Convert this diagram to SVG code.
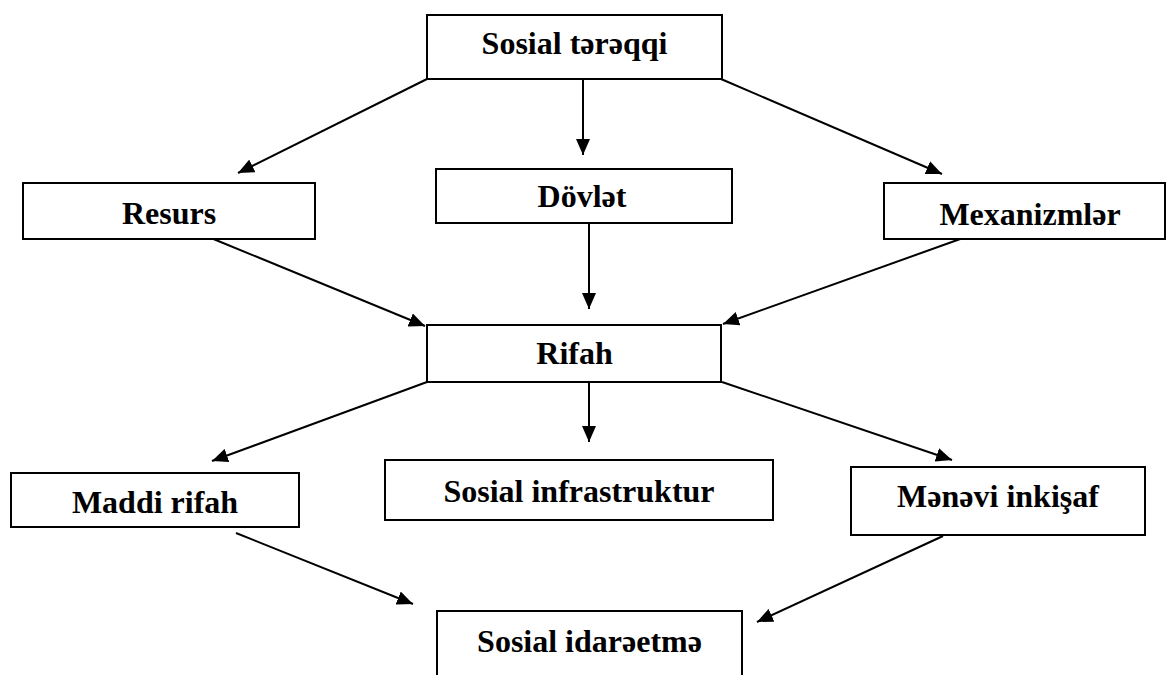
<svg xmlns="http://www.w3.org/2000/svg" width="1166" height="675" viewBox="0 0 1166 675">
<style>
.box{fill:#fff;stroke:#000;stroke-width:2}
.lbl{font-family:"Liberation Serif","Times New Roman",serif;font-weight:bold;font-size:32px;fill:#000;text-anchor:middle}
.con{stroke:#000;stroke-width:2;fill:none;marker-end:url(#ah)}
</style>
<defs>
<marker id="ah" markerUnits="userSpaceOnUse" markerWidth="18" markerHeight="14" refX="16" refY="7" orient="auto">
<path d="M0,0 L16,7 L0,14 Z" fill="#000"/>
</marker>
</defs>
<rect width="1166" height="675" fill="#fff"/>
<g id="connectors">
<line class="con" x1="427" y1="79" x2="238" y2="173"/>
<line class="con" x1="583" y1="79" x2="583" y2="155"/>
<line class="con" x1="721" y1="79" x2="942" y2="174"/>
<line class="con" x1="211" y1="238" x2="425" y2="326"/>
<line class="con" x1="589" y1="223" x2="589" y2="309"/>
<line class="con" x1="963" y1="238" x2="723" y2="324"/>
<line class="con" x1="427" y1="382" x2="212" y2="461"/>
<line class="con" x1="589" y1="382" x2="589" y2="442"/>
<line class="con" x1="722" y1="382" x2="952" y2="460"/>
<line class="con" x1="236" y1="533" x2="413" y2="604"/>
<line class="con" x1="943" y1="536" x2="757" y2="622"/>
</g>
<g id="n-sosial-tereqqi"><rect class="box" x="427" y="15" width="295" height="64"/><text class="lbl" x="574.5" y="54">Sosial tərəqqi</text></g>
<g id="n-resurs"><rect class="box" x="23" y="183" width="292" height="56"/><text class="lbl" x="169" y="224">Resurs</text></g>
<g id="n-dovlet"><rect class="box" x="436" y="169" width="296" height="54"/><text class="lbl" x="582" y="207">Dövlət</text></g>
<g id="n-mexanizmler"><rect class="box" x="884" y="183" width="281" height="56"/><text class="lbl" x="1030" y="225">Mexanizmlər</text></g>
<g id="n-rifah"><rect class="box" x="427" y="325" width="294" height="57"/><text class="lbl" x="574.5" y="364">Rifah</text></g>
<g id="n-maddi-rifah"><rect class="box" x="11" y="473" width="288" height="54"/><text class="lbl" x="155" y="513">Maddi rifah</text></g>
<g id="n-sosial-infrastruktur"><rect class="box" x="385" y="460" width="388" height="60"/><text class="lbl" x="579" y="502">Sosial infrastruktur</text></g>
<g id="n-menevi-inkishaf"><rect class="box" x="851" y="467" width="294" height="68"/><text class="lbl" x="998" y="507">Mənəvi inkişaf</text></g>
<g id="n-sosial-idareetme"><rect class="box" x="437" y="611" width="305" height="80"/><text class="lbl" x="589.5" y="652">Sosial idarəetmə</text></g>
</svg>
